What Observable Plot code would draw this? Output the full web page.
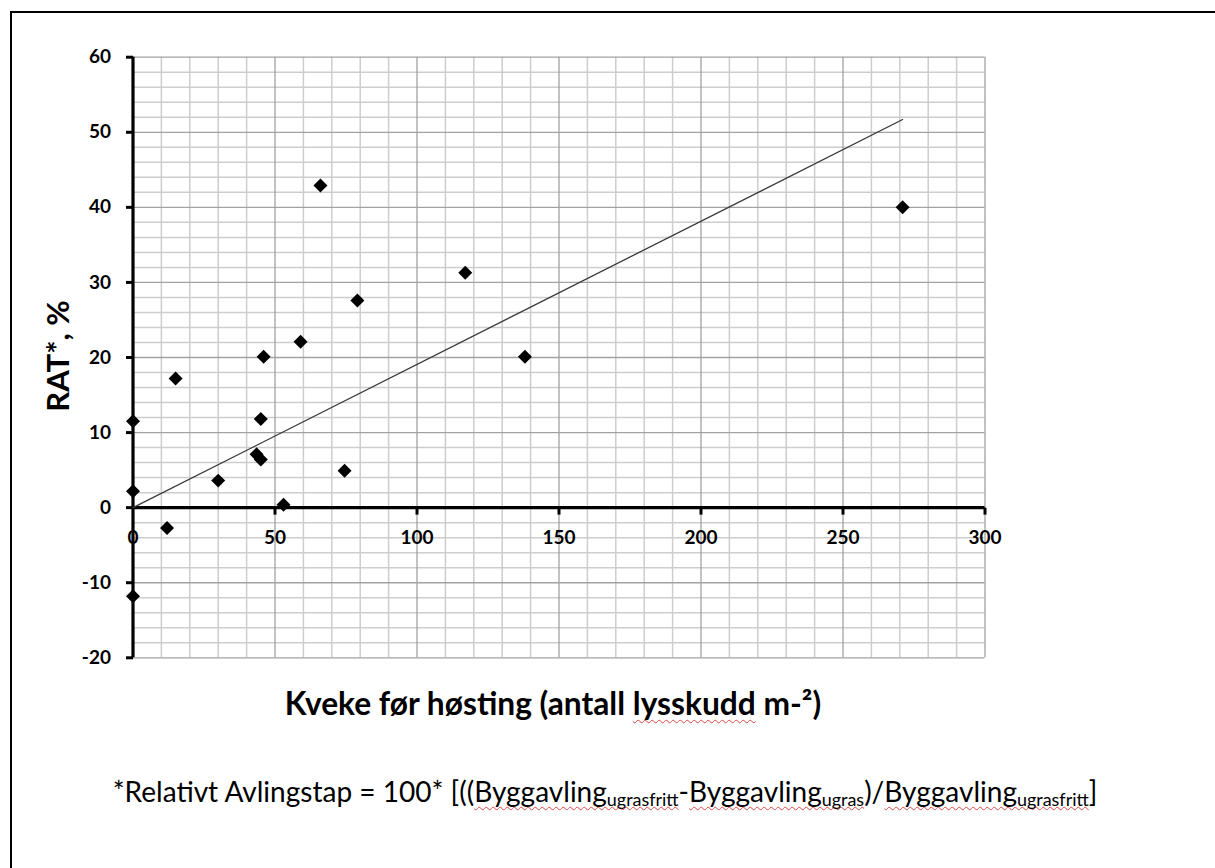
<!DOCTYPE html>
<html>
<head>
<meta charset="utf-8">
<script src="https://cdn.jsdelivr.net/npm/d3@7"></script>
<script src="https://cdn.jsdelivr.net/npm/@observablehq/plot@0.6"></script>
<style>
  html, body { margin: 0; padding: 0; background: #fff; overflow: hidden; }
  #wrap { position: relative; width: 1215px; height: 868px; }
  #frame { position: absolute; left: 10px; top: 11px; right: 0; bottom: 0;
           border-top: 2px solid #000; border-left: 2px solid #000; }
  #chart { position: absolute; left: 0; top: 0; }
  .t { position: absolute; white-space: nowrap; color: #000; line-height: 1; }
  #xtitle { font-family: Lato, sans-serif; font-weight: 700; font-size: 30px;
            transform: translate(-50%, -50%); }
  #ytitle { font-family: Lato, sans-serif; font-weight: 700; font-size: 30px;
            transform: translate(-50%, -50%) rotate(-90deg); }
  #caption { font-family: Lato, sans-serif; font-weight: 400; font-size: 25px;
             transform: translate(-50%, -50%); }
  #caption sub { font-size: 0.64em; vertical-align: -0.22em; line-height: 0; }
  .sp { text-decoration: underline wavy #e04848; text-decoration-thickness: 1px;
        text-underline-offset: 4px; text-decoration-skip-ink: none; }
</style>
</head>
<body>
<div id="wrap">
  <div id="frame"></div>
  <div id="chart"></div>
  <div class="t" id="ytitle">RAT*, %</div>
  <div class="t" id="xtitle">Kveke før høsting (antall <span class="sp">lysskudd</span> m-²)</div>
  <div class="t" id="caption">*Relativt Avlingstap = 100* [((<span class="sp">Byggavling<sub>ugrasfritt</sub></span>-<span class="sp">Byggavling<sub>ugras</sub></span>)/<span class="sp">Byggavling<sub>ugrasfritt</sub></span>]</div>
</div>
<script>
// ---- data ----
const shoots = [0, 0, 0, 12, 15, 30, 43.5, 45, 45, 46, 53, 59, 66, 74.5, 79, 117, 138, 271];
const rat    = [11.5, 2.2, -11.8, -2.7, 17.2, 3.6, 7.1, 6.4, 11.8, 20.1, 0.4, 22.1, 42.9, 4.9, 27.6, 31.3, 20.1, 40];
const trendX = [0, 271];
const trendY = [0, 51.7];
const xTicks = [0, 50, 100, 150, 200, 250, 300];
const yTicks = [-20, -10, 0, 10, 20, 30, 40, 50, 60];

const points = shoots.map((x, i) => ({x, y: rat[i]}));
const trend = trendX.map((x, i) => ({x, y: trendY[i]}));
const xMinor = d3.range(0, 301, 10).filter(d => d % 50 !== 0);
const yMinor = d3.range(-20, 61, 2).filter(d => d % 10 !== 0);

const tickDown = {draw(ctx) { ctx.moveTo(0, 0); ctx.lineTo(0, 7); }};
const tickLeft = {draw(ctx) { ctx.moveTo(0, 0); ctx.lineTo(-7, 0); }};

const W = 1215, H = 868;
const pLeft = 132.5, pRight = 984.5, pTop = 56.7, pBottom = 657.3;

const chart = Plot.plot({
  width: W,
  height: H,
  marginLeft: pLeft,
  marginRight: W - pRight,
  marginTop: pTop,
  marginBottom: H - pBottom,
  x: {domain: [0, 300], axis: null},
  y: {domain: [-20, 60], axis: null},
  style: {fontFamily: "Lato, sans-serif", background: "transparent", color: "#000"},
  marks: [
    Plot.ruleX(xMinor, {stroke: "#cdcdcd", strokeWidth: 1.5}),
    Plot.ruleY(yMinor, {stroke: "#cdcdcd", strokeWidth: 1.5}),
    Plot.ruleX(xTicks, {stroke: "#a2a2a2", strokeWidth: 1.3}),
    Plot.ruleY(yTicks, {stroke: "#a2a2a2", strokeWidth: 1.3}),
    Plot.ruleY([0], {stroke: "#000", strokeWidth: 3.2}),
    Plot.ruleX([0], {stroke: "#000", strokeWidth: 3.2}),
    Plot.dot(xTicks.filter(d => d > 0), {x: d => d, y: 0, symbol: tickDown, stroke: "#000", strokeWidth: 3, fill: "none"}),
    Plot.dot(yTicks, {x: 0, y: d => d, symbol: tickLeft, stroke: "#000", strokeWidth: 3, fill: "none"}),
    Plot.text(xTicks, {x: d => d, y: 0, dy: 30, text: d => String(d), fontSize: 19, fontWeight: 700, fill: "#000"}),
    Plot.text(yTicks, {x: 0, y: d => d, dx: -22, textAnchor: "end", text: d => String(d), fontSize: 19, fontWeight: 700, fill: "#000"}),
    Plot.line(trend, {x: "x", y: "y", stroke: "#383838", strokeWidth: 1.3}),
    Plot.dot(points, {x: "x", y: "y", symbol: "diamond2", r: 6.3, fill: "#000", stroke: "none"})
  ]
});
document.getElementById("chart").append(chart);

// ---- place and size the titles ----
function fit(el, target) {
  const w = el.offsetWidth;
  const fs = parseFloat(getComputedStyle(el).fontSize);
  el.style.fontSize = (fs * target / w) + "px";
}
const xt = document.getElementById("xtitle");
const yt = document.getElementById("ytitle");
const cap = document.getElementById("caption");
fit(xt, 537); fit(yt, 112); fit(cap, 985);
xt.style.left = "553px"; xt.style.top = "704px";
yt.style.left = "58px";  yt.style.top = "356px";
cap.style.left = "605px"; cap.style.top = "791px";
</script>
</body>
</html>
